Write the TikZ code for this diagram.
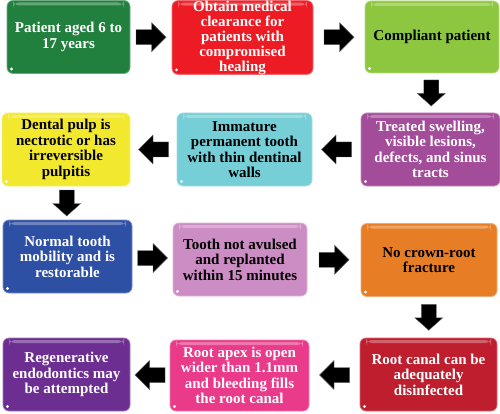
\documentclass[tikz,border=0pt]{standalone}
\usepackage{fontspec}
\setmainfont{Liberation Serif}
\usetikzlibrary{calc}
\definecolor{cGreen}{HTML}{22803E}
\definecolor{cRed}{HTML}{ED1C24}
\definecolor{cLime}{HTML}{8DC63F}
\definecolor{cMagenta}{HTML}{A24C9A}
\definecolor{cCyan}{HTML}{76CED6}
\definecolor{cYellow}{HTML}{F2E82E}
\definecolor{cBlue}{HTML}{2E50A4}
\definecolor{cLilac}{HTML}{CC8CC4}
\definecolor{cOrange}{HTML}{E77E26}
\definecolor{cDarkRed}{HTML}{BE1E2D}
\definecolor{cPink}{HTML}{EA3A8A}
\definecolor{cViolet}{HTML}{6C2E91}
\begin{document}
\begin{tikzpicture}[x=1pt,y=-1pt,
  box/.style={rectangle, rounded corners=6pt, align=center, inner sep=0pt,
    font=\bfseries\fontsize{15}{15.5}\selectfont, minimum height=73pt,
    fill=#1, draw=#1!65!white, line width=0.8pt,
    path picture={
      \fill[white,opacity=0.3] ([xshift=6pt,yshift=-2pt]path picture bounding box.north west)
        rectangle ([xshift=-6pt,yshift=-5pt]path picture bounding box.north east);
      \fill[white] ([shift={(4.5pt,4.5pt)}]path picture bounding box.south west) circle (1.6pt);
    }},
  wbox/.style={box=#1, text=white},
  kbox/.style={box=#1, text=black},
  blockarrow/.pic={
    \fill[black, draw=black!60, line width=0.4pt]
      (-15,-7.5) -- (0.5,-7.5) -- (0.5,-14.5) -- (15,0) -- (0.5,14.5) -- (0.5,7.5) -- (-15,7.5) -- cycle;
  },
  downarrow/.pic={
    \fill[black, draw=black!60, line width=0.4pt]
      (-13,-7.5) -- (0.5,-7.5) -- (0.5,-14) -- (13,0) -- (0.5,14) -- (0.5,7.5) -- (-13,7.5) -- cycle;
  }
]
\useasboundingbox (0,0) rectangle (500,414);
% row 1
\node[wbox=cGreen, minimum width=123pt] (b1) at (68.5,37) {Patient aged 6 to\\17 years};
\node[wbox=cRed, minimum width=141pt, minimum height=72pt,
  font=\bfseries\fontsize{15}{15}\selectfont] (b2) at (242.5,37.5) {Obtain medical\\clearance for\\patients with\\compromised\\healing};
\node[kbox=cLime, minimum width=134pt, minimum height=72pt] (b3) at (432,37) {Compliant patient};
% row 2
\node[wbox=cMagenta, minimum width=139pt] (b4) at (430.5,149.5) {Treated swelling,\\visible lesions,\\defects, and sinus\\tracts};
\node[kbox=cCyan, minimum width=135pt] (b5) at (244.5,149.5) {Immature\\permanent tooth\\with thin dentinal\\walls};
\node[kbox=cYellow, minimum width=128pt] (b6) at (66,149.5) {Dental pulp is\\nectrotic or has\\irreversible\\pulpitis};
% row 3
\node[wbox=cBlue, minimum width=129pt] (b7) at (67.5,256.5) {Normal tooth\\mobility and is\\restorable};
\node[kbox=cLilac, minimum width=134pt] (b8) at (240,259.5) {Tooth not avulsed\\and replanted\\within 15 minutes};
\node[kbox=cOrange, minimum width=136pt] (b9) at (429,260) {No crown-root\\fracture};
% row 4
\node[wbox=cDarkRed, minimum width=137pt] (b10) at (428.5,374.5) {Root canal can be\\adequately\\disinfected};
\node[wbox=cPink, minimum width=139pt, minimum height=71pt] (b11) at (239.5,375.5) {Root apex is open\\wider than 1.1mm\\and bleeding fills\\the root canal};
\node[wbox=cViolet, minimum width=127pt] (b12) at (66.5,374.5) {Regenerative\\endodontics may\\be attempted};
% connectors (block arrows between named boxes)
\pic at ($(b1.east)!0.5!(b2.west)$) {blockarrow};
\pic at ($(b2.east)!0.5!(b3.west)$) {blockarrow};
\pic[rotate=-90] at ($(b3.south)!0.5!(b4.north)$) {downarrow};
\pic[rotate=180] at ($(b4.west)!0.5!(b5.east)$) {blockarrow};
\pic[rotate=180] at ($(b5.west)!0.5!(b6.east)$) {blockarrow};
\pic[rotate=-90] at ($(b6.south)!0.5!(b7.north)$) {downarrow};
\pic at ($(b7.east)!0.5!(b8.west)$) {blockarrow};
\pic at ($(b8.east)!0.5!(b9.west)$) {blockarrow};
\pic[rotate=-90] at ($(b9.south)!0.5!(b10.north)$) {downarrow};
\pic[rotate=180] at ($(b10.west)!0.5!(b11.east)$) {blockarrow};
\pic[rotate=180] at ($(b11.west)!0.5!(b12.east)$) {blockarrow};
\end{tikzpicture}
\end{document}
